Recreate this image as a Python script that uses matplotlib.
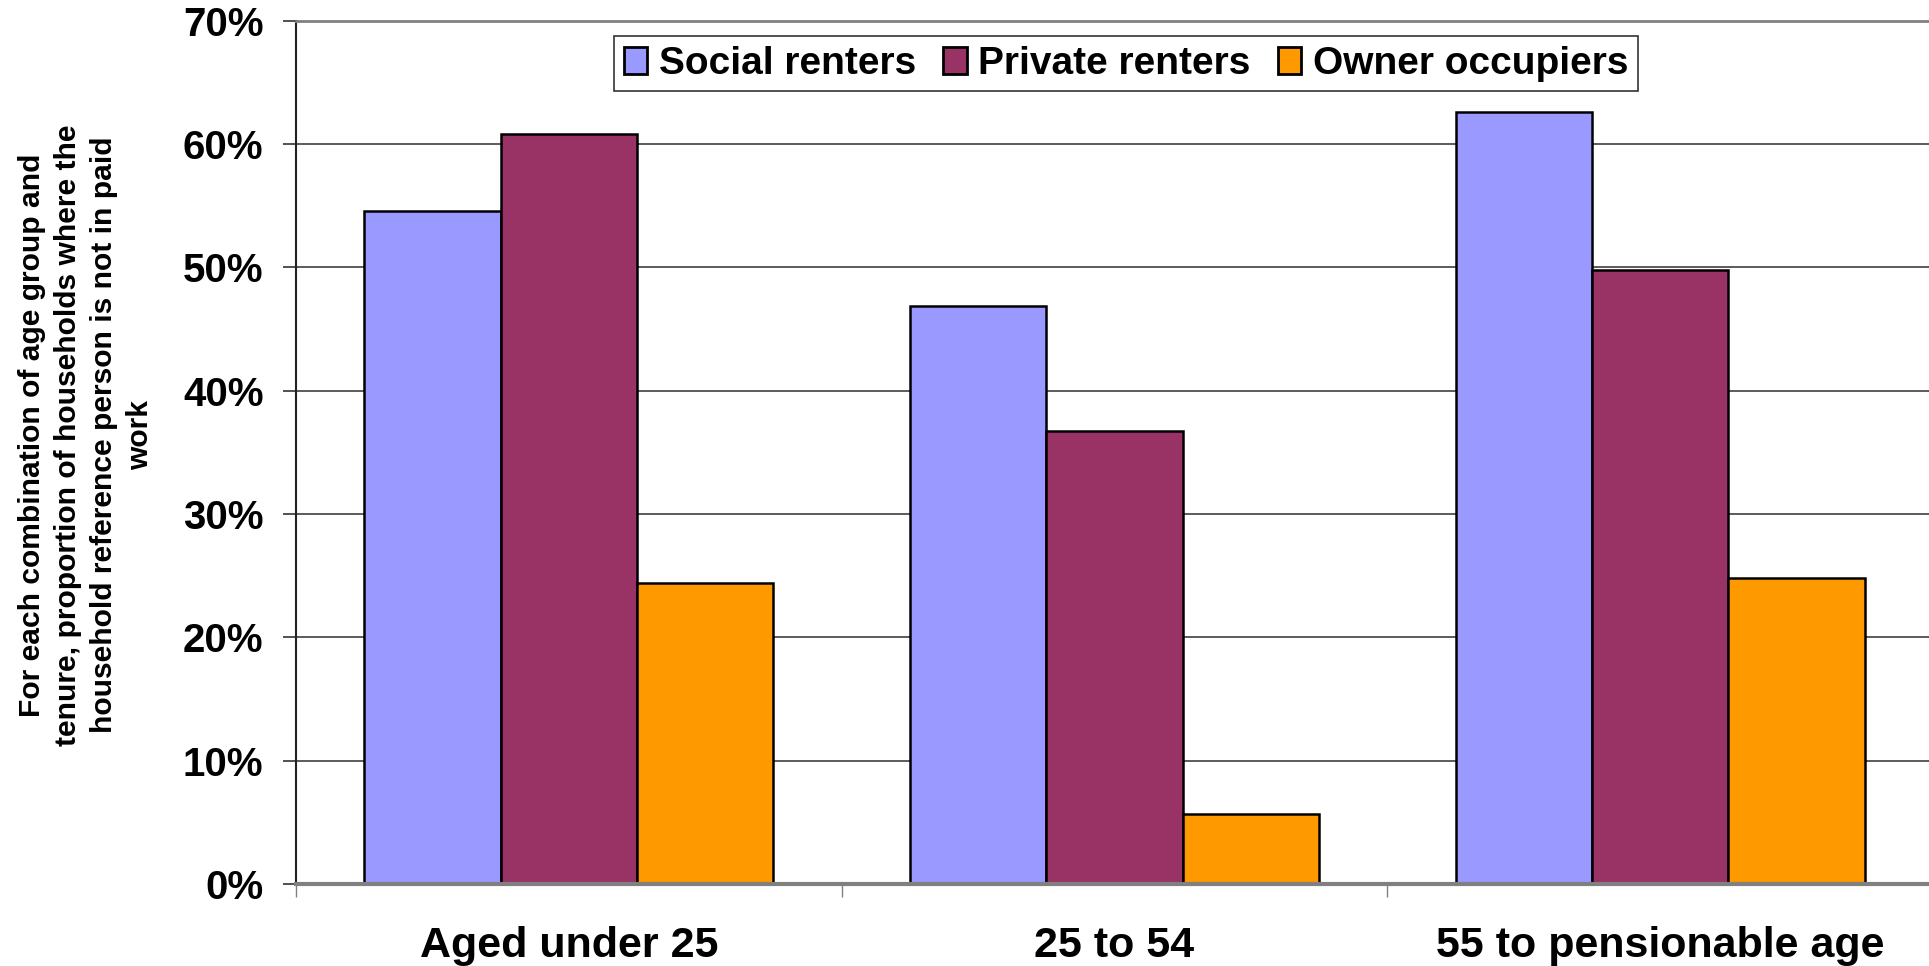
import numpy as np
import matplotlib
matplotlib.use("Agg")
import matplotlib.pyplot as plt
from matplotlib.ticker import FixedLocator, PercentFormatter

# --- data ---
age_groups = ["Aged under 25", "25 to 54", "55 to pensionable age"]
tenures = ["Social renters", "Private renters", "Owner occupiers"]
social = [54.6, 46.9, 62.6]
private = [60.8, 36.7, 49.8]
owner = [24.4, 5.7, 24.8]
series = [social, private, owner]
colors = ["#9999FF", "#993366", "#FF9900"]
ylabel = ("For each combination of age group and\n"
          "tenure, proportion of households where the\n"
          "household reference person is not in paid\n"
          "work")

plt.rcParams.update({
    "font.family": ["Liberation Sans", "DejaVu Sans"],
    "font.weight": "bold",
    "axes.labelweight": "bold",
})

W, H = 1929, 966
fig = plt.figure(figsize=(W / 100, H / 100), dpi=100)
# plot area (right edge runs slightly past the canvas, as in the reference)
left, right, bottom, top = 296, 1933, 884, 20.7
ax = fig.add_axes([left / W, 1 - bottom / H, (right - left) / W, (bottom - top) / H])

x = np.arange(len(age_groups))
bw = 0.25
for i, (vals, name, col) in enumerate(zip(series, tenures, colors)):
    ax.bar(x + 0.125 + bw * i, vals, width=bw, align="edge", color=col,
           edgecolor="black", linewidth=1.8, label=name, zorder=3)

ax.set_xlim(0, 3)
ax.set_ylim(0, 70)
ax.yaxis.set_major_locator(FixedLocator(np.arange(0, 71, 10)))
ax.yaxis.set_major_formatter(PercentFormatter(decimals=0))
ax.grid(axis="y", color="#404040", linewidth=1.2, zorder=0)
ax.set_axisbelow(True)

# category boundary ticks without labels, labels centred in between
ax.xaxis.set_major_locator(FixedLocator([0, 1, 2, 3]))
ax.xaxis.set_minor_locator(FixedLocator(x + 0.5))
ax.set_xticklabels([])
ax.set_xticklabels(age_groups, minor=True)
ax.tick_params(axis="x", which="major", length=9, width=1, color="#808080", direction="out")
ax.tick_params(axis="x", which="minor", length=0, pad=30, labelsize=31)
ax.tick_params(axis="y", length=9.4, width=1.2, color="#333333", pad=14, labelsize=29)

ax.spines["right"].set_visible(False)
ax.spines["top"].set_color("#808080")
ax.spines["top"].set_linewidth(2)
ax.spines["bottom"].set_color("#808080")
ax.spines["bottom"].set_linewidth(3)
ax.spines["bottom"].set_zorder(4)
ax.spines["left"].set_color("#222222")
ax.spines["left"].set_linewidth(1.5)

fig.text(86 / W, 1 - 435 / H, ylabel, rotation=90, ha="center", va="center",
         multialignment="center", fontsize=21.6, fontweight="bold", linespacing=1.36)

leg = ax.legend(loc="upper left", bbox_to_anchor=(614 / W, 1 - 36 / H),
                bbox_transform=fig.transFigure, ncol=3, fontsize=28,
                frameon=True, fancybox=False, edgecolor="black", borderaxespad=0,
                borderpad=0.25, handlelength=0.6, handleheight=0.7,
                handletextpad=0.3, columnspacing=0.7)
leg.get_frame().set_linewidth(1.2)
for p in leg.get_patches():
    p.set_linewidth(2)

fig.savefig("out.png", dpi=100)
